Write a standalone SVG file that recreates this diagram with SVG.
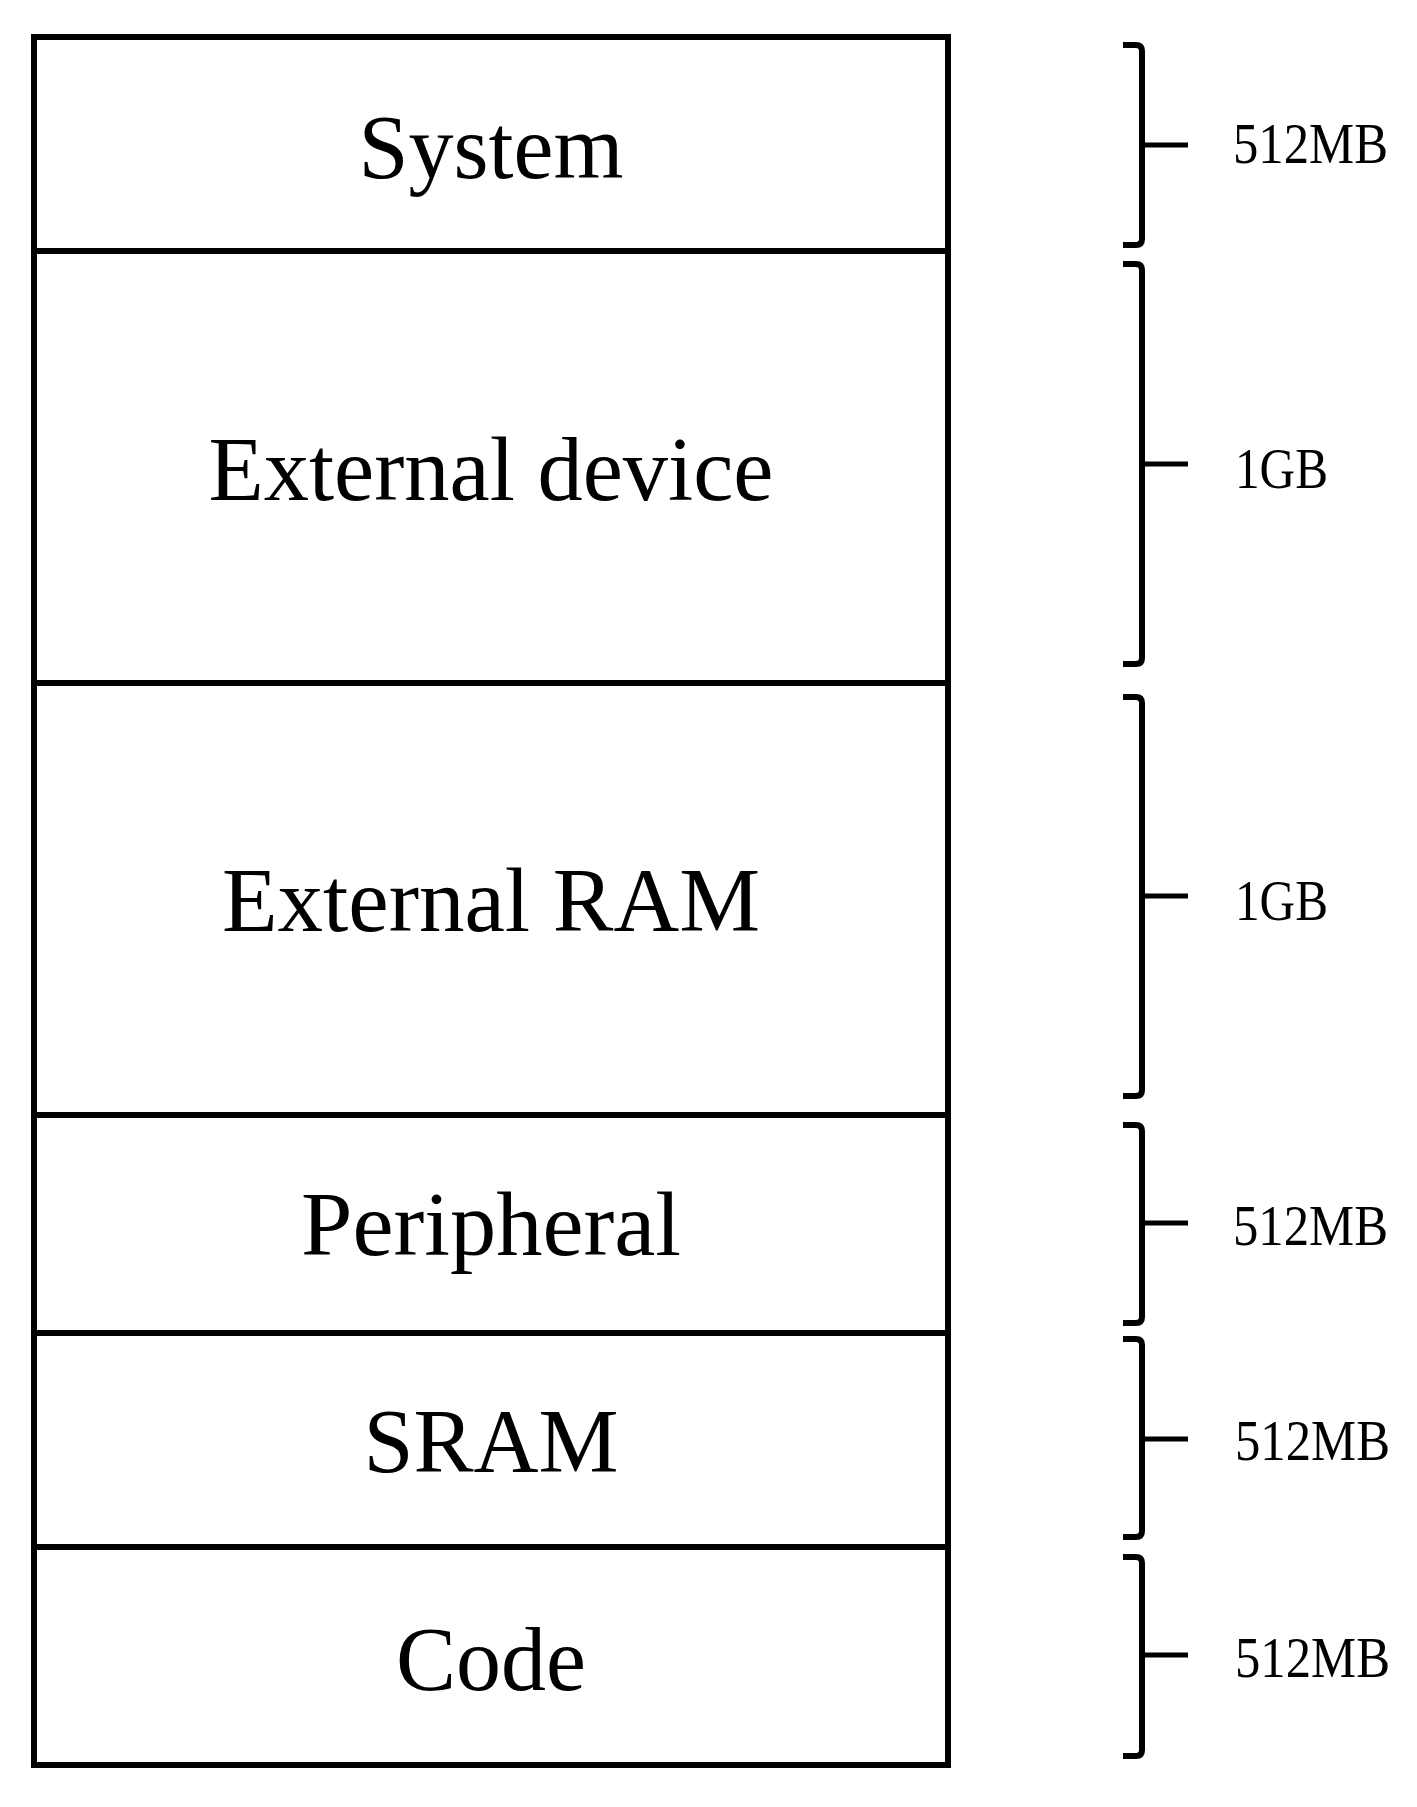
<svg xmlns="http://www.w3.org/2000/svg" width="1417" height="1807" viewBox="0 0 1417 1807">
<style>
.box{fill:#fff;stroke:#000;stroke-width:6}
.div{stroke:#000;stroke-width:6}
.lbl{font-family:"Liberation Serif","Times New Roman",serif;font-size:90px;fill:#000;text-anchor:middle}
.brace{fill:none;stroke:#000;stroke-width:6;stroke-linecap:butt}
.tick{stroke:#000;stroke-width:5}
.sz{font-family:"Liberation Serif","Times New Roman",serif;font-size:56px;fill:#000}
</style>
<rect width="1417" height="1807" fill="#fff"/>
<g id="memory-map">
<rect class="box" x="34" y="37" width="914" height="1728"/>
</g>
<g id="region-system">
<text class="lbl" x="491" y="178">System</text>
</g>
<g id="region-external-device">
<line class="div" x1="34" y1="251" x2="948" y2="251"/>
<text class="lbl" x="491" y="500" textLength="565" lengthAdjust="spacingAndGlyphs">External device</text>
</g>
<g id="region-external-ram">
<line class="div" x1="34" y1="683" x2="948" y2="683"/>
<text class="lbl" x="491" y="931" textLength="538" lengthAdjust="spacingAndGlyphs">External RAM</text>
</g>
<g id="region-peripheral">
<line class="div" x1="34" y1="1115" x2="948" y2="1115"/>
<text class="lbl" x="491" y="1255" textLength="380" lengthAdjust="spacingAndGlyphs">Peripheral</text>
</g>
<g id="region-sram">
<line class="div" x1="34" y1="1333" x2="948" y2="1333"/>
<text class="lbl" x="491" y="1472">SRAM</text>
</g>
<g id="region-code">
<line class="div" x1="34" y1="1547" x2="948" y2="1547"/>
<text class="lbl" x="491" y="1690">Code</text>
</g>
<g id="connectors">
<path class="brace" d="M1123,45 H1136 Q1142,45 1142,51 V239 Q1142,245 1136,245 H1123"/>
<line class="tick" x1="1142" y1="145" x2="1188" y2="145"/>
<path class="brace" d="M1123,264 H1136 Q1142,264 1142,270 V658 Q1142,664 1136,664 H1123"/>
<line class="tick" x1="1142" y1="464" x2="1188" y2="464"/>
<path class="brace" d="M1123,697 H1136 Q1142,697 1142,703 V1090 Q1142,1096 1136,1096 H1123"/>
<line class="tick" x1="1142" y1="896" x2="1188" y2="896"/>
<path class="brace" d="M1123,1125 H1136 Q1142,1125 1142,1131 V1317 Q1142,1323 1136,1323 H1123"/>
<line class="tick" x1="1142" y1="1223" x2="1188" y2="1223"/>
<path class="brace" d="M1123,1339 H1136 Q1142,1339 1142,1345 V1531 Q1142,1537 1136,1537 H1123"/>
<line class="tick" x1="1142" y1="1439" x2="1188" y2="1439"/>
<path class="brace" d="M1123,1557 H1136 Q1142,1557 1142,1563 V1750 Q1142,1756 1136,1756 H1123"/>
<line class="tick" x1="1142" y1="1655" x2="1188" y2="1655"/>
</g>
<g id="size-labels">
<text class="sz" x="1233" y="163" textLength="155" lengthAdjust="spacingAndGlyphs">512MB</text>
<text class="sz" x="1235" y="488" textLength="93" lengthAdjust="spacingAndGlyphs">1GB</text>
<text class="sz" x="1235" y="920" textLength="93" lengthAdjust="spacingAndGlyphs">1GB</text>
<text class="sz" x="1233" y="1245" textLength="155" lengthAdjust="spacingAndGlyphs">512MB</text>
<text class="sz" x="1235" y="1460" textLength="155" lengthAdjust="spacingAndGlyphs">512MB</text>
<text class="sz" x="1235" y="1677" textLength="155" lengthAdjust="spacingAndGlyphs">512MB</text>
</g>
</svg>
